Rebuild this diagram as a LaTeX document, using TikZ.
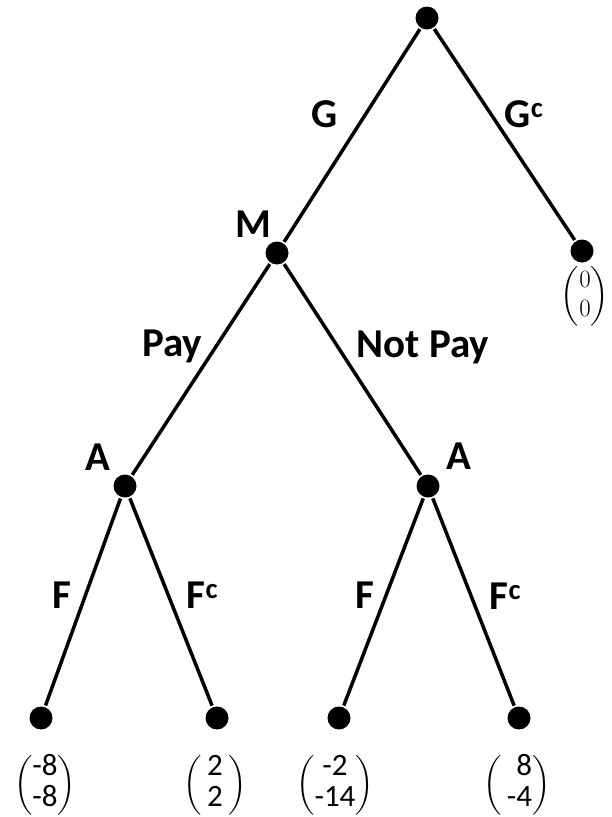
\documentclass[tikz,border=0pt]{standalone}
\usepackage{amsmath}
\usepackage{fontspec}
\setmainfont{Carlito}
\usetikzlibrary{positioning}

\begin{document}
\begin{tikzpicture}[
  x=1pt, y=-1pt,
  dot/.style={circle, fill=black, inner sep=0pt, minimum size=23pt},
  lbl/.style={font=\fontsize{41}{44}\selectfont\bfseries, inner sep=0pt, anchor=base},
  pay/.style={font=\fontsize{31}{31}\selectfont, inner sep=0pt},
  line width=3.5pt
]
\useasboundingbox (0,0) rectangle (611,817);
% decision nodes
\node[dot] (root) at (427,18)  {};
\node[dot] (m)    at (277,253) {};
\node[dot] (gc)   at (582,251) {};
\node[dot] (a1)   at (125,486) {};
\node[dot] (a2)   at (428,486) {};
% leaves
\node[dot] (l1) at (41,718)  {};
\node[dot] (l2) at (217,718) {};
\node[dot] (l3) at (339,718) {};
\node[dot] (l4) at (519,718) {};
\draw (root)--(m); \draw (root)--(gc);
\draw (m)--(a1); \draw (m)--(a2);
\draw (a1)--(l1); \draw (a1)--(l2); \draw (a2)--(l3); \draw (a2)--(l4);
% player and move labels
\node[lbl] (lm)  at (253,237) {M};
\node[lbl] (la1) at (98,470)  {A};
\node[lbl] (la2) at (459,469) {A};
\node[lbl] (lg)  at (325,127) {G};
\node[lbl, anchor=base west] (lgc) at (503,127) {G\textsuperscript{c}};
\node[lbl] (lpay) at (172,356) {Pay};
\node[lbl] (lnpay) at (423,357) {Not Pay};
\node[lbl] (lf1) at (62,608)  {F};
\node[lbl, anchor=base west] (lfc1) at (185,608) {F\textsuperscript{c}};
\node[lbl] (lf2) at (365,608) {F};
\node[lbl, anchor=base west] (lfc2) at (488,609) {F\textsuperscript{c}};
% payoffs
\node[pay, font=\fontsize{27}{29}\selectfont] (p0) at (585,296) {$\begin{pmatrix}0\\0\end{pmatrix}$};
\node[pay] (p1) at (45,785)  {$\left(\begin{tabular}{@{}c@{}}-8\\-8\end{tabular}\right)$};
\node[pay] (p2) at (215,785) {$\left(\begin{tabular}{@{\,}c@{\,}}2\\2\end{tabular}\right)$};
\node[pay] (p3) at (335,785) {$\left(\begin{tabular}{@{}c@{}}-2\\-14\end{tabular}\right)$};
\node[pay] (p4) at (517,785) {$\left(\begin{tabular}{@{\,}r@{}}8\\-4\end{tabular}\right)$};
\end{tikzpicture}
\end{document}
